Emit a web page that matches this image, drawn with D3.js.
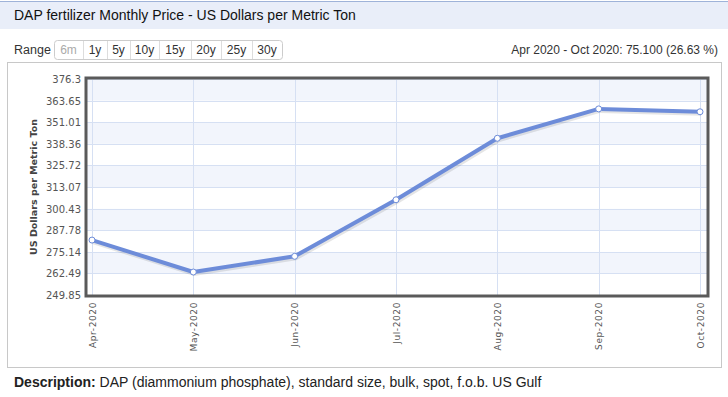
<!DOCTYPE html>
<html>
<head>
<meta charset="utf-8">
<script src="https://cdn.jsdelivr.net/npm/d3@7"></script>
<style>
  body { margin: 0; background: #fff; }
  svg text { font-family: "Liberation Sans", Arial, sans-serif; }
</style>
</head>
<body>
<div id="chart"></div>
<script>
// data
var months = ["Apr-2020", "May-2020", "Jun-2020", "Jul-2020", "Aug-2020", "Sep-2020", "Oct-2020"];
var prices = [282.01, 263.3, 272.5, 305.6, 341.6, 358.8, 357.11];
var yTicks = [249.85, 262.49, 275.14, 287.78, 300.43, 313.07, 325.72, 338.36, 351.01, 363.65, 376.3];
var ranges = ["6m", "1y", "5y", "10y", "15y", "20y", "25y", "30y"];

var svg = d3.select("#chart")
  .append("svg")
    .attr("width", 728)
    .attr("height", 397);

// title bar
svg.append("rect")
	.attr("x", 0).attr("y", 1)
	.attr("width", 728).attr("height", 28)
	.style("fill", "#e9eef9");
svg.append("line")
	.attr("x1", 0).attr("x2", 728)
	.attr("y1", 1.5).attr("y2", 1.5)
	.style("stroke", "#9fb3d9");
svg.append("text")
	.attr("x", 14).attr("y", 20)
	.attr("font-size", 14)
	.attr("fill", "#111")
	.text("DAP fertilizer Monthly Price - US Dollars per Metric Ton");

// range buttons
svg.append("text")
	.attr("x", 14).attr("y", 54)
	.attr("font-size", 12.5)
	.attr("fill", "#333")
	.text("Range");

var btnX = [54, 83, 107, 130, 159, 191, 221, 252, 282];
svg.append("rect")
	.attr("x", 54.5).attr("y", 40.5)
	.attr("width", 228).attr("height", 19)
	.attr("rx", 3)
	.style("fill", "#fff")
	.style("stroke", "#ccc");
ranges.forEach(function(r, i) {
  if (i > 0) {
    svg.append("line")
      .attr("x1", btnX[i] + 0.5).attr("x2", btnX[i] + 0.5)
      .attr("y1", 41).attr("y2", 59)
      .style("stroke", "#ddd");
  }
  svg.append("text")
    .attr("x", (btnX[i] + btnX[i + 1]) / 2)
    .attr("y", 54)
    .attr("text-anchor", "middle")
    .attr("font-size", 12)
    .attr("fill", i == 0 ? "#aaa" : "#333")
    .text(r);
});

svg.append("text")
	.attr("x", 718).attr("y", 54)
	.attr("text-anchor", "end")
	.attr("font-size", 12)
	.attr("fill", "#333")
	.text("Apr 2020 - Oct 2020: 75.100 (26.63 %)");

// chart container
svg.append("rect")
	.attr("x", 7.5).attr("y", 62.5)
	.attr("width", 714).attr("height", 305)
	.style("fill", "#fff")
	.style("stroke", "#c8c8c8");

var pLeft = 86, pRight = 708, pTop = 79, pBottom = 295;

var x = d3.scalePoint()
  .domain(months)
  .range([92, 700]);

var y = d3.scaleLinear()
  .domain([yTicks[0], yTicks[yTicks.length - 1]])
  .range([pBottom, pTop]);

var plot = svg.append("g");

// alternating bands
plot.selectAll("rect.band")
  .data(d3.pairs(yTicks))
  .enter().append("rect")
    .attr("class", "band")
    .attr("x", pLeft)
    .attr("width", pRight - pLeft)
    .attr("y", function(d) { return y(d[1]); })
    .attr("height", function(d) { return y(d[0]) - y(d[1]); })
    .style("fill", function(d, i) { return i % 2 == 1 ? "#f2f5fc" : "#fff"; });

// grid
plot.selectAll("line.hgrid")
  .data(yTicks)
  .enter().append("line")
    .attr("class", "hgrid")
    .attr("x1", pLeft).attr("x2", pRight)
    .attr("y1", function(d) { return Math.round(y(d)) + 0.5; })
    .attr("y2", function(d) { return Math.round(y(d)) + 0.5; })
    .style("stroke", "#d6e0f3");

plot.selectAll("line.vgrid")
  .data(months)
  .enter().append("line")
    .attr("class", "vgrid")
    .attr("x1", function(d) { return Math.round(x(d)) + 0.5; })
    .attr("x2", function(d) { return Math.round(x(d)) + 0.5; })
    .attr("y1", pTop).attr("y2", pBottom)
    .style("stroke", "#d6e0f3");

// y labels
svg.selectAll("text.ylab")
  .data(yTicks)
  .enter().append("text")
    .attr("class", "ylab")
    .attr("x", 81)
    .attr("y", function(d) { return y(d) + 4; })
    .attr("text-anchor", "end")
    .style("font-family", "'DejaVu Sans', Verdana, sans-serif")
    .attr("font-size", 10)
    .attr("fill", "#555")
    .text(function(d) { return d; });

svg.append("text")
	.attr("transform", "translate(37," + ((pTop + pBottom) / 2) + ") rotate(-90)")
	.attr("text-anchor", "middle")
	.style("font-family", "'DejaVu Sans', Verdana, sans-serif")
	.attr("font-size", 9.5)
	.attr("font-weight", "bold")
	.attr("fill", "#444")
	.text("US Dollars per Metric Ton");

// x labels
svg.selectAll("text.xlab")
  .data(months)
  .enter().append("text")
    .attr("class", "xlab")
    .attr("transform", function(d) { return "translate(" + (x(d) + 3.5) + ",302) rotate(-90)"; })
    .attr("text-anchor", "end")
    .style("font-family", "'DejaVu Sans', Verdana, sans-serif")
    .attr("font-size", 9)
    .attr("letter-spacing", 0.6)
    .attr("fill", "#555")
    .text(function(d) { return d; });

// line
var line = d3.line()
  .x(function(d, i) { return x(months[i]); })
  .y(function(d) { return y(d); });

plot.append("path")
  .datum(prices)
  .attr("d", line)
  .attr("transform", "translate(1,1.5)")
  .style("fill", "none")
  .style("stroke", "rgba(0,0,0,0.1)")
  .style("stroke-width", 5);

plot.append("path")
  .datum(prices)
  .attr("d", line)
  .style("fill", "none")
  .style("stroke", "#6d8cd9")
  .style("stroke-width", 4)
  .style("stroke-linejoin", "round");

plot.selectAll("circle")
  .data(prices)
  .enter().append("circle")
    .attr("cx", function(d, i) { return x(months[i]); })
    .attr("cy", function(d) { return y(d); })
    .attr("r", 3)
    .style("fill", "#fff")
    .style("stroke", "#6d8cd9")
    .style("stroke-width", 1);

// plot border
svg.append("rect")
	.attr("x", pLeft).attr("y", pTop - 1)
	.attr("width", pRight - pLeft).attr("height", pBottom - pTop + 2)
	.style("fill", "none")
	.style("stroke", "#5a5a5a")
	.style("stroke-width", 3);

// description
var desc = svg.append("text")
	.attr("x", 14).attr("y", 387)
	.attr("font-size", 14)
	.attr("fill", "#222");
desc.append("tspan").attr("font-weight", "bold").text("Description:");
desc.append("tspan").text(" DAP (diammonium phosphate), standard size, bulk, spot, f.o.b. US Gulf");
</script>
</body>
</html>
